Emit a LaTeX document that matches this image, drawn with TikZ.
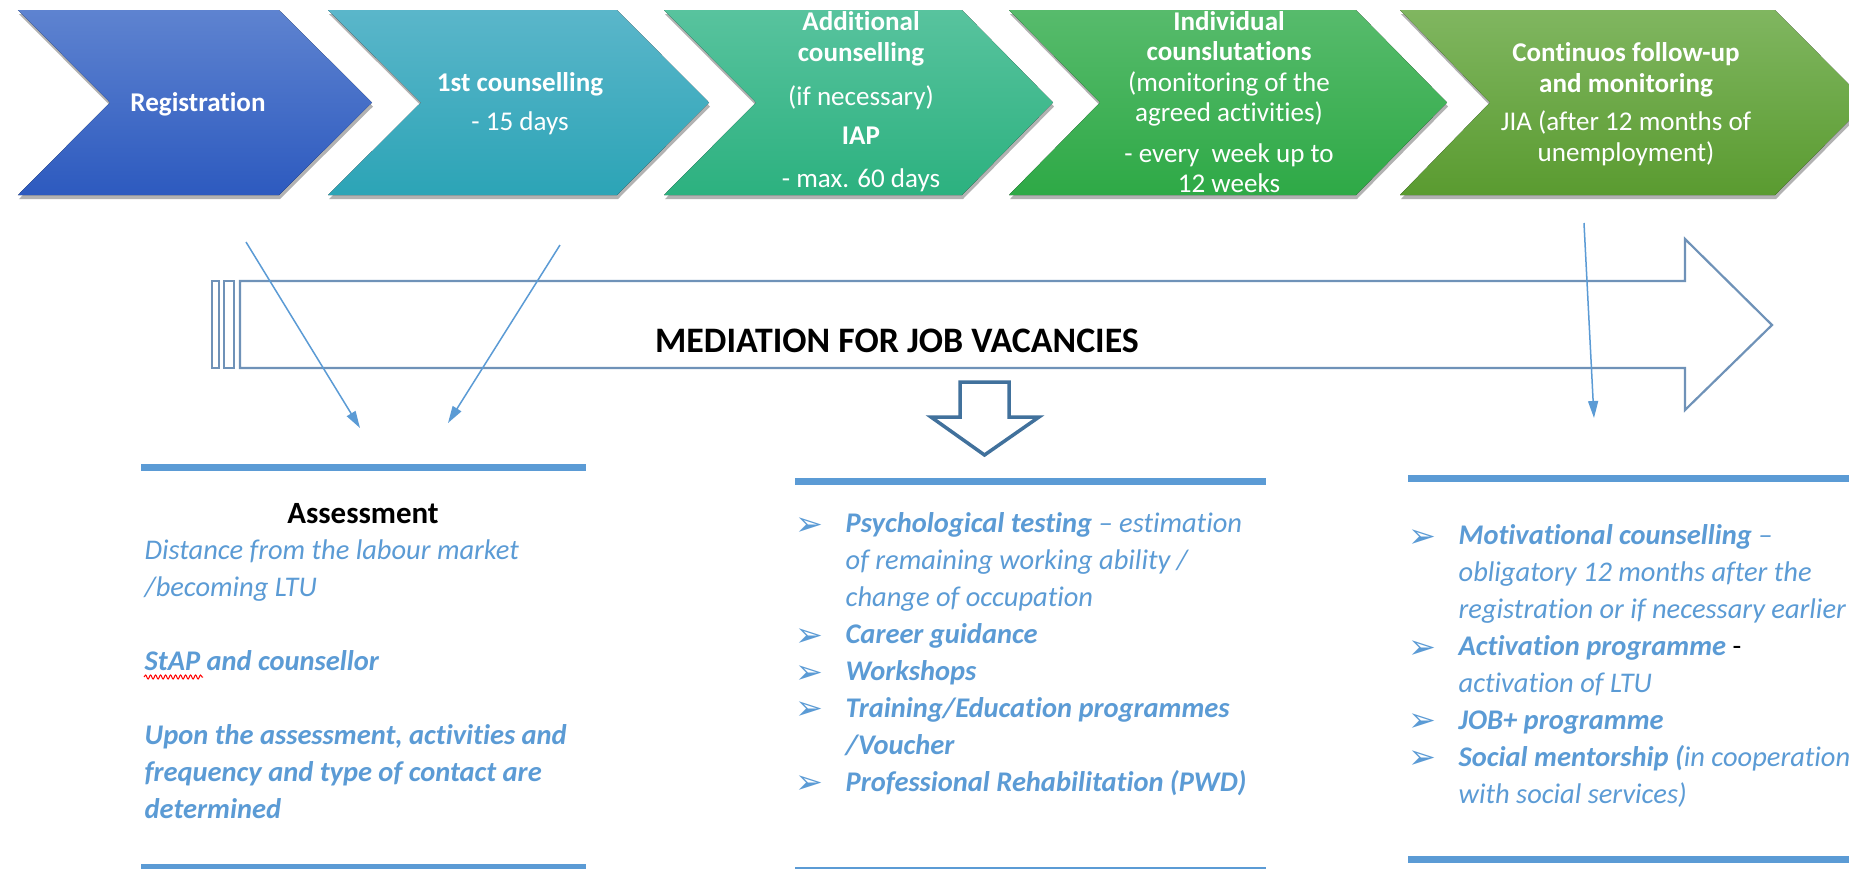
\documentclass[tikz,border=0pt]{standalone}
\usepackage{fontspec}
\setmainfont{Carlito}[Ligatures = {TeX, NoCommon}]
\newfontfamily\dingfont{DejaVu Sans}
\usetikzlibrary{arrows.meta,shadows,decorations.pathmorphing}

\definecolor{regtop}{HTML}{5E83D0}
\definecolor{regbot}{HTML}{2D5ABF}
\definecolor{cnstop}{HTML}{5AB6CA}
\definecolor{cnsbot}{HTML}{2CA4B6}
\definecolor{addtop}{HTML}{58C39E}
\definecolor{addbot}{HTML}{2CB17F}
\definecolor{indtop}{HTML}{57BB6C}
\definecolor{indbot}{HTML}{2EA946}
\definecolor{foltop}{HTML}{80B660}
\definecolor{folbot}{HTML}{5A9B30}
\definecolor{textblue}{HTML}{5B9BD5}
\definecolor{railblue}{HTML}{6F92B8}
\definecolor{downblue}{HTML}{41719C}

\tikzset{
  chevron/.style={drop shadow={shadow xshift=0.01cm, shadow yshift=-0.04cm, opacity=0.3, fill=black}},
  chevtext/.style={text=white, align=center, inner sep=0pt, font=\fontsize{7.7}{8.7}\selectfont},
  bluetext/.style={text=textblue, align=left, inner sep=0pt, anchor=north west, font=\fontsize{8.1}{10.5}\selectfont\itshape},
  pointer/.style={draw=textblue, line width=0.015cm, -{Triangle[length=0.17cm, width=0.1cm]}},
  rule/.style={draw=textblue, line width=0.07cm},
  rail/.style={draw=railblue, line width=0.022cm}
}
\newcommand{\itemmark}{\llap{\raisebox{-0.2ex}{\dingfont\upshape\bfseries\fontsize{9.5}{9.5}\selectfont\color{textblue}➢}\hspace{0.22cm}}}

\begin{document}
\begin{tikzpicture} [x = 1cm, y = -1cm]
\useasboundingbox (0.0, 0.0) rectangle (18.49, 8.68);
\clip (0.0, 0.0) rectangle (18.49, 8.68);
\fill[white] (0.0, 0.0) rectangle (18.49, 8.68);

\fill[chevron, top color = regtop, bottom color = regbot] (0.18, 0.10) -- (2.79, 0.10) -- (3.72, 1.025) -- (2.79, 1.95) -- (0.18, 1.95) -- (1.10, 1.025) -- cycle;
\fill[chevron, top color = cnstop, bottom color = cnsbot] (3.28, 0.10) -- (6.17, 0.10) -- (7.09, 1.025) -- (6.17, 1.95) -- (3.28, 1.95) -- (4.21, 1.025) -- cycle;
\fill[chevron, top color = addtop, bottom color = addbot] (6.64, 0.10) -- (9.62, 0.10) -- (10.53, 1.025) -- (9.62, 1.95) -- (6.64, 1.95) -- (7.56, 1.025) -- cycle;
\fill[chevron, top color = indtop, bottom color = indbot] (10.09, 0.10) -- (13.56, 0.10) -- (14.47, 1.025) -- (13.56, 1.95) -- (10.09, 1.95) -- (11.00, 1.025) -- cycle;
\fill[chevron, top color = foltop, bottom color = folbot] (14.00, 0.10) -- (17.75, 0.10) -- (18.67, 1.025) -- (17.75, 1.95) -- (14.00, 1.95) -- (14.90, 1.025) -- cycle;

\node[chevtext] (reg) at (1.98, 1.04){\textbf{Registration}};
\node[chevtext] (first) at (5.20, 1.04){\textbf{1st counselling}\\[0.085cm]- 15 days};
\node[chevtext] (addl) at (8.61, 1.02){\textbf{Additional}\\\textbf{counselling}\\[0.135cm](if necessary)\\[0.085cm]\textbf{IAP}\\[0.125cm]- max. 60 days};
\node[chevtext] (indiv) at (12.29, 1.02){\textbf{Individual}\\\textbf{counslutations}\\(monitoring of the\\agreed activities)\\[0.095cm]- every~ week up to\\12 weeks};
\node[chevtext] (follow) at (16.26, 1.04){\textbf{Continuos follow-up}\\\textbf{and monitoring}\\[0.08cm]JIA (after 12 months of\\unemployment)};

\draw[rail] (2.12, 2.81) rectangle (2.19, 3.68);
\draw[rail] (2.24, 2.81) rectangle (2.34, 3.68);
\draw[rail] (2.40, 2.81) -- (16.85, 2.81) -- (16.85, 2.39) -- (17.72, 3.25) -- (16.85, 4.10) -- (16.85, 3.68) -- (2.40, 3.68) -- cycle;
\node[font = \fontsize{10.2}{12}\selectfont\bfseries, inner sep = 0pt] (mediation) at (8.97, 3.41){MEDIATION FOR JOB VACANCIES};

\draw[downblue, line width = 0.035cm, fill = white] (9.60, 3.82) -- (10.09, 3.82) -- (10.09, 4.17) -- (10.39, 4.17) -- (9.845, 4.55) -- (9.31, 4.17) -- (9.60, 4.17) -- cycle;

\coordinate (regfoot) at (2.46, 2.42);
\coordinate (cnsfoot) at (5.60, 2.45);
\coordinate (folfoot) at (15.84, 2.23);
\coordinate (assessL) at (3.60, 4.28);
\coordinate (assessR) at (4.48, 4.23);
\coordinate (measin) at (15.94, 4.18);
\draw[pointer] (regfoot) -- (assessL);
\draw[pointer] (cnsfoot) -- (assessR);
\draw[pointer] (folfoot) -- (measin);

\draw[rule] (1.41, 4.67) -- (5.86, 4.67);
\draw[rule] (7.95, 4.81) -- (12.66, 4.81);
\draw[rule] (14.08, 4.78) -- (18.60, 4.78);
\draw[rule] (1.41, 8.67) -- (5.86, 8.67);
\draw[rule] (7.95, 8.70) -- (12.66, 8.70);
\draw[rule] (14.08, 8.59) -- (18.60, 8.59);

\node[font = \fontsize{8.8}{10}\selectfont\bfseries, inner sep = 0pt] (assess) at (3.63, 5.14){Assessment};
\node[bluetext] (assessbody) at (1.44, 5.39){Distance from the labour market\\/becoming LTU\\[0.37cm]\textbf{StAP and counsellor}\\[0.37cm]\textbf{Upon the assessment, activities and}\\\textbf{frequency and type of contact are}\\\textbf{determined}};
\draw[red, line width = 0.01cm, decorate, decoration = {snake, amplitude = 0.02cm, segment length = 0.05cm}] (1.44, 6.77) -- (2.03, 6.77);

\node[bluetext] (services) at (8.45, 5.12){\itemmark\textbf{Psychological testing} – estimation\\of remaining working ability /\\change of occupation\\\itemmark\textbf{Career guidance}\\\itemmark\textbf{Workshops}\\\itemmark\textbf{Training/Education programmes}\\\textbf{/Voucher}\\\itemmark\textbf{Professional Rehabilitation (PWD)}};

\node[bluetext] (measures) at (14.58, 5.24){\itemmark\textbf{Motivational counselling} –\\obligatory 12 months after the\\registration or if necessary earlier\\\itemmark\textbf{Activation programme} \textcolor{black}{\upshape -}\\activation of LTU\\\itemmark\textbf{JOB+ programme}\\\itemmark\textbf{Social mentorship (}in cooperation\\with social services)};
\end{tikzpicture}
\end{document}
